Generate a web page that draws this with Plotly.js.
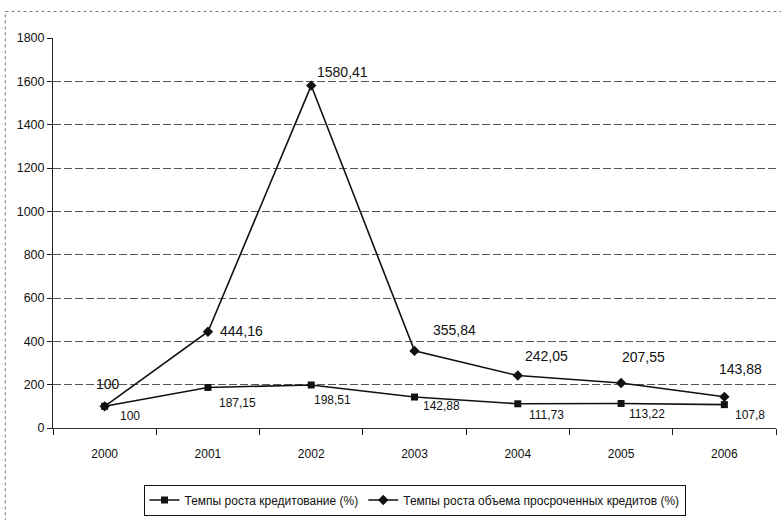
<!DOCTYPE html>
<html>
<head>
<meta charset="utf-8">
<script src="https://cdn.plot.ly/plotly-3.0.1.min.js"></script>
<style>
  html, body { margin: 0; padding: 0; background: #fff; }
  #chart { width: 781px; height: 520px; }
</style>
</head>
<body>
<div id="chart"></div>
<script>
// Годы и ряды темпов роста (%)
const years = ['2000', '2001', '2002', '2003', '2004', '2005', '2006'];
const creditGrowth = [100, 187.15, 198.51, 142.88, 111.73, 113.22, 107.8];
const overdueGrowth = [100, 444.16, 1580.41, 355.84, 242.05, 207.55, 143.88];
const creditName = 'Темпы роста кредитование (%)';
const overdueName = 'Темпы роста объема просроченных кредитов (%)';
const yTicks = [0, 200, 400, 600, 800, 1000, 1200, 1400, 1600, 1800];

// Смещения подписей значений (в пикселях) относительно точек
const overdueDx = [-11, 10, 4, 16, 5, -1, -7];
const overdueDy = [22, 1, 14, 21, 20, 26, 28];
const creditDx = [13, 9, 1, 6, 9, 6, 9];
const creditDy = [-10, -16, -15, -9, -11, -11, -10];

const FONT = '"Liberation Sans Narrow", "Arial Narrow", "Liberation Sans", Arial, sans-serif';
const fmt = v => String(v).replace('.', ',');

const traces = [
  {
    x: years, y: creditGrowth, name: creditName,
    type: 'scatter', mode: 'lines+markers',
    line: { color: '#111', width: 1.6 },
    marker: { symbol: 'square', size: 7, color: '#111' }
  },
  {
    x: years, y: overdueGrowth, name: overdueName,
    type: 'scatter', mode: 'lines+markers',
    line: { color: '#111', width: 1.6 },
    marker: { symbol: 'diamond', size: 8, color: '#111' }
  }
];

// подписи значений: позиция по оси категорий задаётся индексом года
const annotations = [];
years.forEach((yr, i) => {
  annotations.push({
    x: i, y: overdueGrowth[i], xref: 'x', yref: 'y',
    text: fmt(overdueGrowth[i]), showarrow: false,
    xanchor: 'left', yanchor: 'middle',
    xshift: overdueDx[i], yshift: overdueDy[i],
    font: { family: FONT, size: 14, color: '#111' }
  });
  annotations.push({
    x: i, y: creditGrowth[i], xref: 'x', yref: 'y',
    text: fmt(creditGrowth[i]), showarrow: false,
    xanchor: 'left', yanchor: 'middle',
    xshift: creditDx[i], yshift: creditDy[i],
    font: { family: FONT, size: 12, color: '#111' }
  });
});

const layout = {
  width: 781, height: 520,
  margin: { l: 53, r: 5, t: 38, b: 88 },
  paper_bgcolor: '#fff', plot_bgcolor: '#fff',
  font: { family: FONT, size: 12, color: '#111' },
  showlegend: true,
  legend: {
    orientation: 'h', x: 0.5, xanchor: 'center', y: -0.145, yanchor: 'top',
    bordercolor: '#111', borderwidth: 1,
    font: { family: FONT, size: 12, color: '#111' },
    itemwidth: 30
  },
  xaxis: {
    type: 'category', categoryorder: 'array', categoryarray: years,
    range: [-0.5, years.length - 0.5],
    tickson: 'boundaries', ticks: 'outside', ticklen: 6, tickcolor: '#222',
    showline: true, linecolor: '#333', linewidth: 1,
    showgrid: false, zeroline: false,
    tickfont: { family: FONT, size: 12, color: '#111' },
    ticklabelstandoff: 15
  },
  yaxis: {
    range: [0, 1800], tickvals: yTicks, ticktext: yTicks.map(String),
    ticks: 'outside', ticklen: 5, tickcolor: '#222',
    showline: true, linecolor: '#222', linewidth: 1,
    showgrid: true, gridcolor: '#555', gridwidth: 1, griddash: '8px,3px',
    zeroline: false,
    tickfont: { family: FONT, size: 12.5, color: '#111' }
  },
  annotations: annotations,
  shapes: [{
    type: 'rect', xref: 'paper', yref: 'paper',
    x0: -0.066, x1: 1.2, y0: -0.6, y1: 1.068,
    line: { color: '#777', width: 1, dash: 'dot' }
  }]
};

Plotly.newPlot('chart', traces, layout, { displayModeBar: false, staticPlot: true });
</script>
</body>
</html>
